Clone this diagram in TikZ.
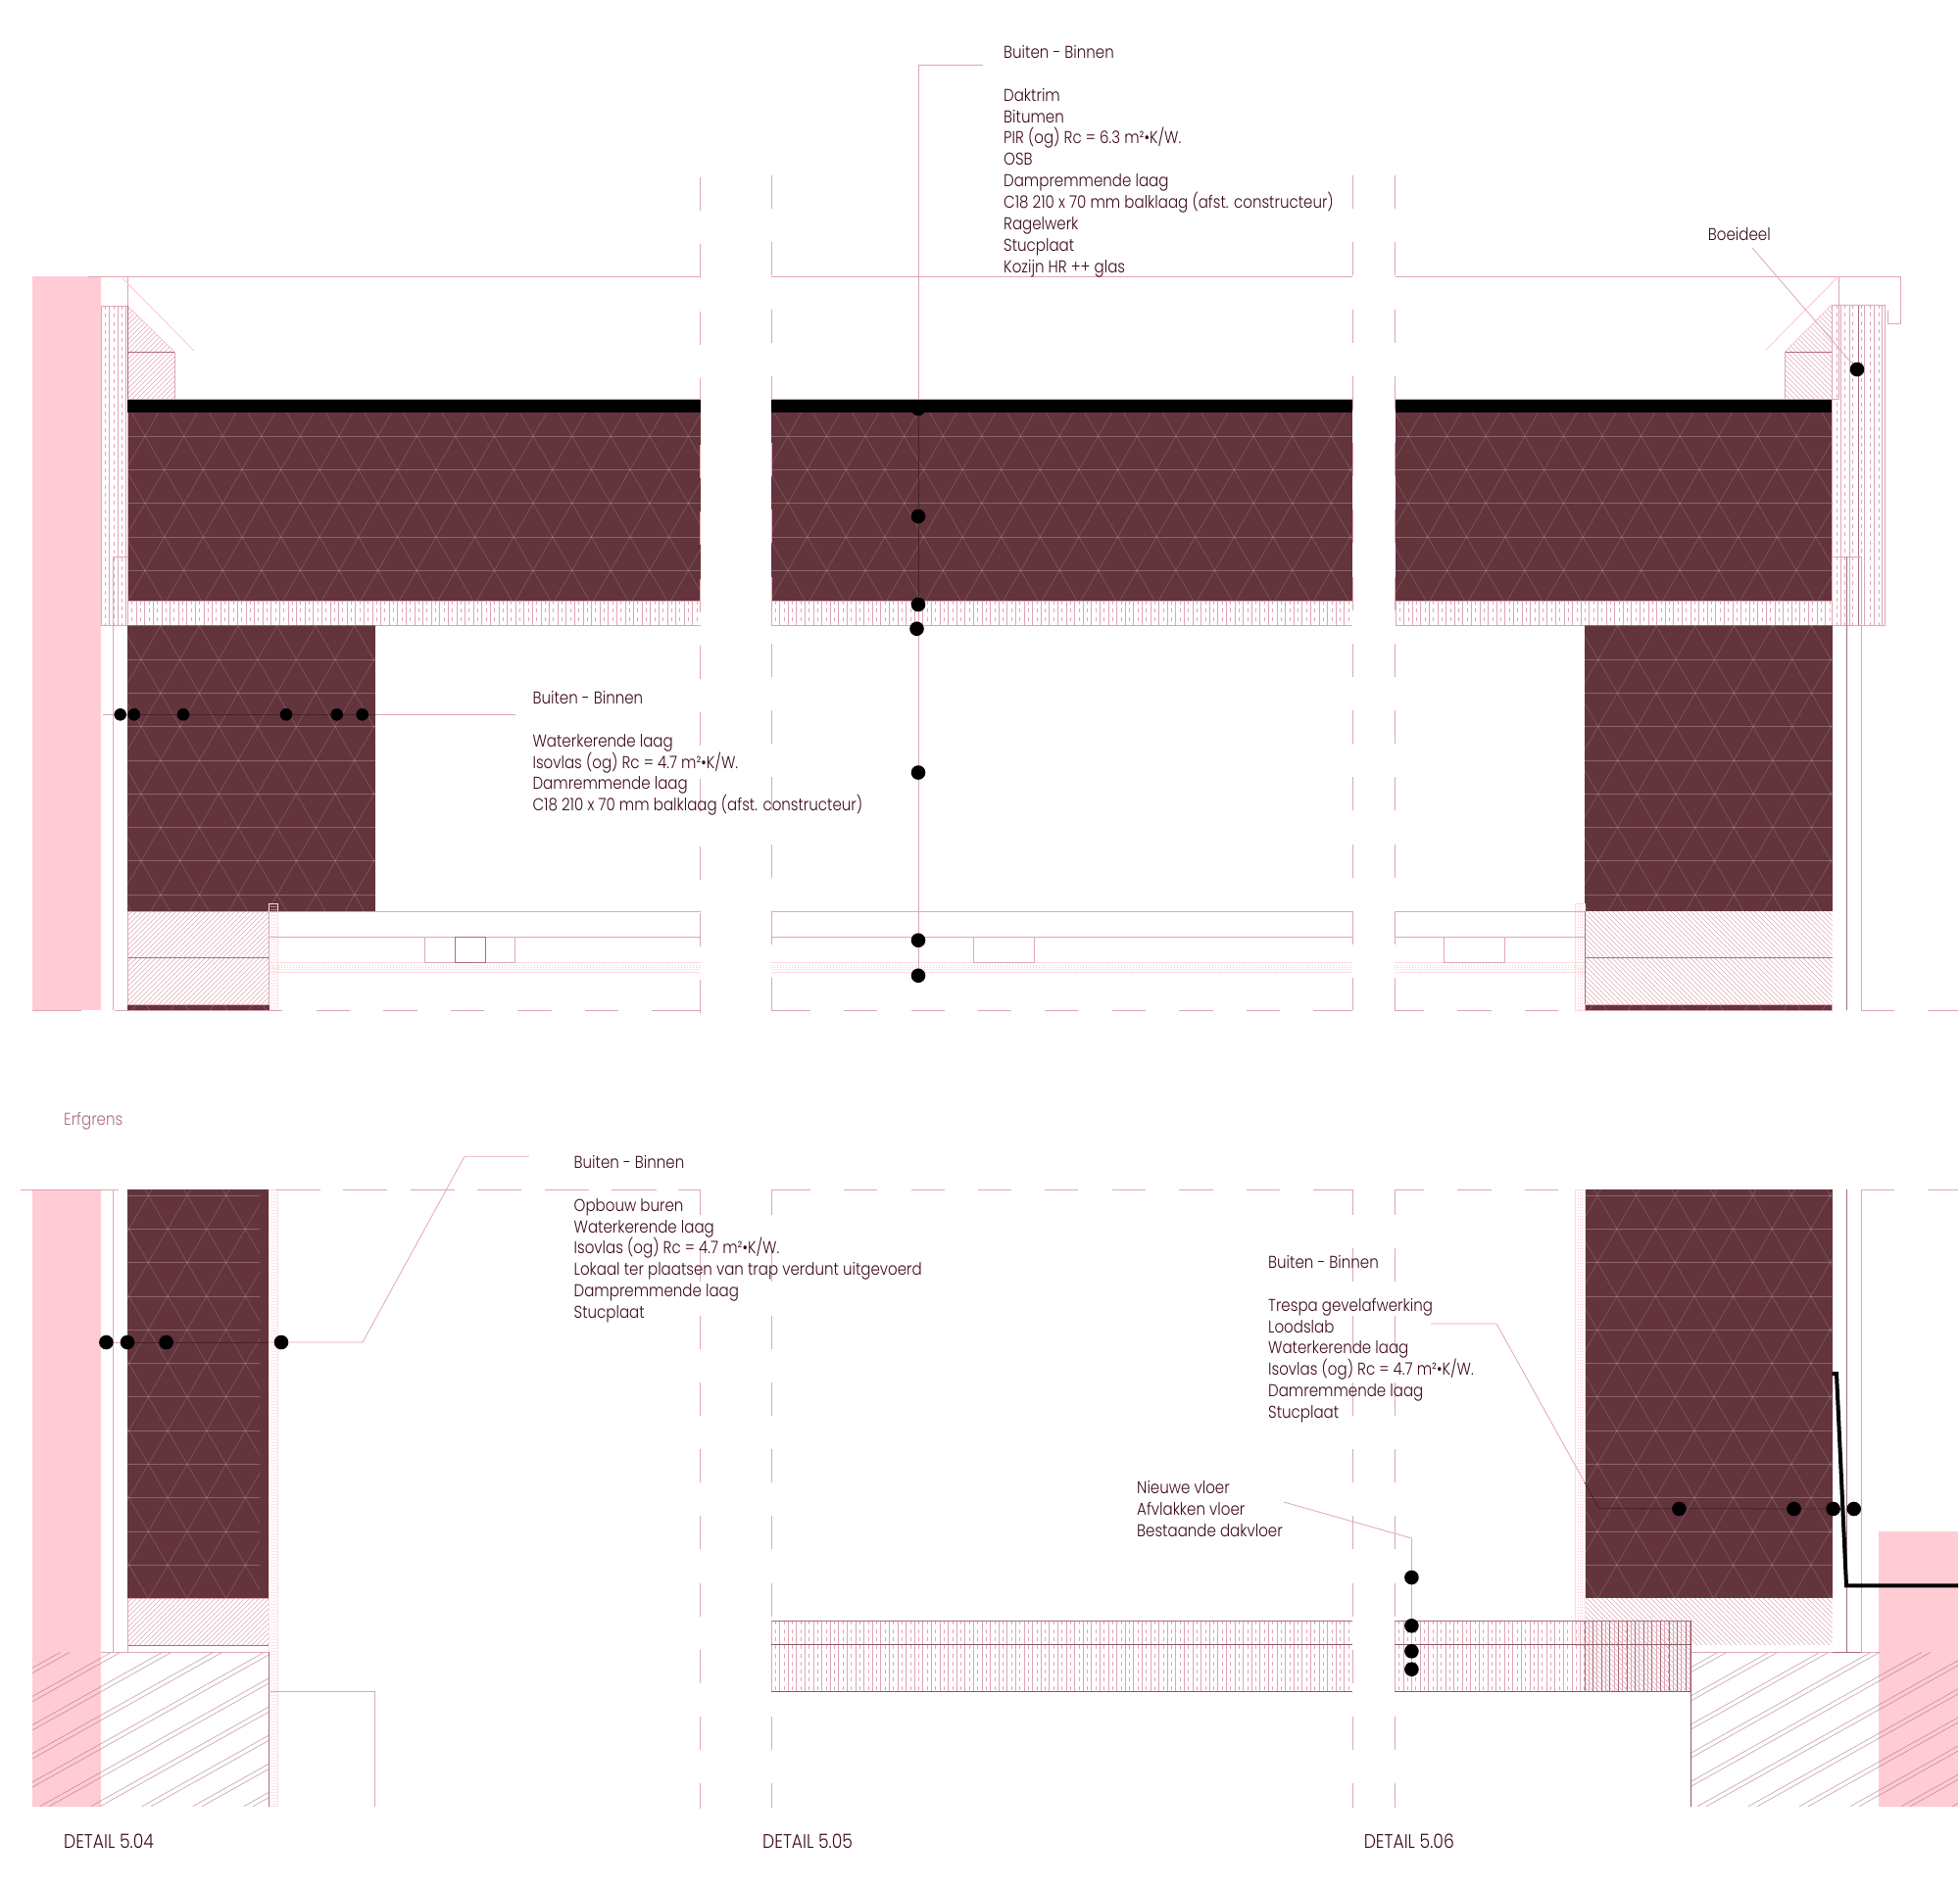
\documentclass[tikz,border=0pt]{standalone}
\usepackage{fontspec}
\setmainfont{Poppins}[UprightFont=* Light,FakeStretch=0.86]
\pgfdeclarelayer{top}
\pgfsetlayers{main,top}
\definecolor{wallc}{HTML}{63343C}
\definecolor{pinkf}{HTML}{FFCCD5}
\definecolor{linec}{HTML}{DFA6B4}
\definecolor{lined}{HTML}{A86C7C}
\definecolor{linee}{HTML}{8E5564}
\definecolor{paled}{HTML}{FFC8D2}
\definecolor{inkc}{HTML}{3D0A1A}
\definecolor{leaderin}{HTML}{47222B}
\tikzset{
  pl/.style={draw=linec,line width=0.9pt},
  pld/.style={draw=lined,line width=0.8pt},
  ple/.style={draw=linee,line width=0.8pt},
  pale/.style={draw=paled,line width=0.9pt},
  hatchl/.style={draw=linec,line width=0.55pt},
  latth/.style={draw=white,draw opacity=0.24,line width=0.8pt},
  lattd/.style={draw=white,draw opacity=0.17,line width=0.7pt},
  ins/.style={draw=linec,line width=0.8pt},
  insd/.style={draw=linec,line width=0.8pt,dash pattern=on 4pt off 4.3pt},
  insk/.style={draw=lined,line width=0.7pt},
  grd/.style={draw=lined,draw opacity=0.6,line width=0.7pt},
  dotb/.style={draw=paled,line width=0.7pt,dash pattern=on 1pt off 2pt},
  dotl/.style={draw=paled!70,line width=0.7pt},
  dashv/.style={draw=linec,line width=1pt,dash pattern=on 34pt off 34.25pt},
  blackdot/.style={circle,fill=black,draw=none,minimum size=14.6pt,inner sep=0pt},
  blackdotsm/.style={blackdot,minimum size=12.6pt},
  txt/.style={anchor=north west,inner sep=0pt,align=left,text=inkc,font=\fontsize{17.5}{21.9}\selectfont},
  capt/.style={txt,font=\fontsize{20}{24}\selectfont},
  leader/.style={draw=linec,line width=0.8pt},
  leaderd/.style={draw=leaderin,line width=0.8pt},
}
\newcommand{\hatchfw}[5]{%
  \begin{scope}
    \clip #5;
    \pgfmathsetmacro\hatchH{#4-#2}
    \pgfmathsetmacro\hatchS{#1-\hatchH}
    \pgfmathsetmacro\hatchN{\hatchS+5}
    \foreach \xx in {\hatchS,\hatchN,...,#3} {
      \pgfmathsetmacro\hatchE{\xx+\hatchH}
      \draw[hatchl] (\xx,#4) -- (\hatchE,#2);
    }
  \end{scope}}
\newcommand{\hatchbk}[5]{%
  \begin{scope}
    \clip #5;
    \pgfmathsetmacro\hatchH{#4-#2}
    \pgfmathsetmacro\hatchS{#1-\hatchH}
    \pgfmathsetmacro\hatchN{\hatchS+5}
    \foreach \xx in {\hatchS,\hatchN,...,#3} {
      \pgfmathsetmacro\hatchE{\xx+\hatchH}
      \draw[hatchl] (\xx,#2) -- (\hatchE,#4);
    }
  \end{scope}}
\newcommand{\lattice}[6]{%
  \begin{scope}
    \clip (#1,#2) rectangle (#3,#4);
    \foreach \k in {-1,...,13} {
      \pgfmathsetmacro\latY{#6+\k*34.3}
      \draw[latth] (#1,\latY) -- (#3,\latY);
    }
    \foreach \m in {-8,...,25} {
      \pgfmathsetmacro\latA{#5+\m*39.6+(#2-#6)*0.5773}
      \pgfmathsetmacro\latB{\latA+(#4-#2)*0.5773}
      \pgfmathsetmacro\latC{#5+\m*39.6-(#2-#6)*0.5773}
      \pgfmathsetmacro\latD{\latC-(#4-#2)*0.5773}
      \draw[lattd] (\latA,#2) -- (\latB,#4) (\latC,#2) -- (\latD,#4);
    }
  \end{scope}}
\newcommand{\insul}[4]{%
  \pgfmathsetmacro\insN{#1+8.6}
  \foreach \xx in {#1,\insN,...,#3} {
    \draw[ins] (\xx,#2) -- (\xx,#4);
    \pgfmathsetmacro\insM{\xx+4.3}
    \pgfmathparse{\insM<#3 ? 1 : 0}
    \ifnum\pgfmathresult=1 \draw[insd] (\insM,#2) -- (\insM,#4); \fi
  }}
\newcommand{\dotV}[4]{%
  \draw[dotl] (#1,#2) rectangle (#3,#4);
  \pgfmathsetmacro\dvA{#1+2.6}
  \pgfmathsetmacro\dvB{#1+4.6}
  \pgfmathsetmacro\dvC{#1+6.8}
  \draw[dotb] (\dvA,#2) -- (\dvA,#4) (\dvB,#2) -- (\dvB,#4) (\dvC,#2) -- (\dvC,#4);}
\newcommand{\dotH}[2]{%
  \draw[dotl] (#1,982) -- (#2,982) (#1,992) -- (#2,992);
  \draw[dotb] (#1,985) -- (#2,985) (#1,987) -- (#2,987) (#1,989.5) -- (#2,989.5);}
\begin{document}
\begin{tikzpicture}[x=1pt,y=-1pt]
\useasboundingbox (0,0) rectangle (2000,1928);
% dots and texts (top layer; named first so connectors can use them)
\begin{pgfonlayer}{top}
  \foreach \n/\px/\py in {T1/937/417,T2/937/527,T3/937/617,T4/935.5/641.7,T5/937/959.7,T6/937/995.7,
      B/1895/377,
      M1/108.4/1370,M2/130/1370,M3/169.6/1370,M4/287/1370,
      R1/1713.4/1540,R2/1830.5/1540,R3/1870.6/1540,R4/1891.7/1540,
      F1/1440.4/1610,F2/1440.4/1659.3,F3/1440.4/1685.3,F4/1440.4/1703.7}
    \node[blackdot] (d\n) at (\px,\py) {};
  \node[blackdot] (dT7) at (937,788.5) {};
  \foreach \n/\px in {L1/122.7,L2/136.7,L3/187,L4/292,L5/343.7,L6/369.7}
    \node[blackdotsm] (d\n) at (\px,729.3) {};
  \node[txt] (t1) at (1024,46) {Buiten - Binnen\\[21.9pt]Daktrim\\Bitumen\\PIR (og) Rc = 6.3 m²•K/W.\\OSB\\Dampremmende laag\\C18 210 x 70 mm balklaag (afst. constructeur)\\Ragelwerk\\Stucplaat\\Kozijn HR ++ glas};
  \node[txt] (t2) at (543.4,705) {Buiten - Binnen\\[21.9pt]Waterkerende laag\\Isovlas (og) Rc = 4.7 m²•K/W.\\Damremmende laag\\C18 210 x 70 mm balklaag (afst. constructeur)};
  \node[txt] (t3) at (1742.7,232) {Boeideel};
  \node[txt,text=lined] (t4) at (65,1135) {Erfgrens};
  \node[txt] (t5) at (585.5,1179) {Buiten - Binnen\\[21.9pt]Opbouw buren\\Waterkerende laag\\Isovlas (og) Rc = 4.7 m²•K/W.\\Lokaal ter plaatsen van trap verdunt uitgevoerd\\Dampremmende laag\\Stucplaat};
  \node[txt] (t6) at (1294,1281) {Buiten - Binnen\\[21.9pt]Trespa gevelafwerking\\Loodslab\\Waterkerende laag\\Isovlas (og) Rc = 4.7 m²•K/W.\\Damremmende laag\\Stucplaat};
  \node[txt] (t7) at (1160,1511) {Nieuwe vloer\\Afvlakken vloer\\Bestaande dakvloer};
  \node[capt] (t8) at (65,1872) {DETAIL 5.04};
  \node[capt] (t9) at (778,1872) {DETAIL 5.05};
  \node[capt] (t10) at (1391.6,1872) {DETAIL 5.06};
\end{pgfonlayer}
% pink neighbours
\fill[pinkf] (33,282) rectangle (103,1031);
\fill[pinkf] (33,1214) rectangle (103,1843.7);
\fill[pinkf] (1916.6,1562.7) rectangle (1998,1843.7);
% ground hatch
\begin{scope}
  \clip (33,1686.3) rectangle (274.3,1843.7);
  \foreach \k in {-2,...,8} {
    \pgfmathsetmacro\gA{175+52*\k}
    \pgfmathsetmacro\gB{165.7+52*\k}
    \pgfmathsetmacro\gC{\gA-281}
    \pgfmathsetmacro\gD{\gB-281}
    \draw[grd] (\gA,1686.3) -- (\gC,1843.7) (\gB,1686.3) -- (\gD,1843.7);
  }
\end{scope}
\begin{scope}
  \clip (1725.3,1686.3) rectangle (1998,1843.7);
  \foreach \k in {-2,...,9} {
    \pgfmathsetmacro\gA{1866+52*\k}
    \pgfmathsetmacro\gB{1857+52*\k}
    \pgfmathsetmacro\gC{\gA-281}
    \pgfmathsetmacro\gD{\gB-281}
    \draw[grd] (\gA,1686.3) -- (\gC,1843.7) (\gB,1686.3) -- (\gD,1843.7);
  }
\end{scope}
% roof fills
\foreach \a/\b in {130/715,787/1380,1424/1869.3} {
  \fill[wallc] (\a,421) rectangle (\b,613);
}
\lattice{130}{421}{715}{613}{148}{445}
\lattice{787}{421}{1380}{613}{764.3}{445}
\lattice{1424}{421}{1869.3}{613}{1397.4}{445}
% roof lower insulation strip
\insul{130.5}{613}{715}{638}
\insul{787}{613}{1380}{638}
\insul{1424}{613}{1869}{638}
\foreach \a/\b in {130/715,787/1380,1424/1869.3} {
  \draw[pl] (\a,613) -- (\b,613) (\a,638) -- (\b,638);
}
% top line
\draw[pl] (90,282) -- (715,282);
\draw[pl] (787,282) -- (1380,282);
\draw[pl] (1424,282) -- (1939,282) -- (1939,330.5) -- (1926.3,330.5) -- (1926.3,317);
\draw[pl] (130,282) -- (130,312);
\draw[pl] (1876.3,282) -- (1876.3,407) -- (1821,407);
\draw[pale] (123,282) -- (198,358);
\draw[pale] (1876,282) -- (1802,357);
% left vertical insulation
\foreach \xx in {103,111.3,120,128.7,130} \draw[ins] (\xx,312) -- (\xx,638);
\foreach \xx in {107.3,116,124.7} \draw[insd] (\xx,312) -- (\xx,638);
\draw[ins] (103,312) -- (130,312);
\draw[ins] (103,638) -- (130,638);
% right vertical insulation
\foreach \xx in {1869.3,1878.3,1887.3,1902.7,1912.3,1920.7,1923.7} \draw[ins] (\xx,311) -- (\xx,638);
\draw[pld] (1896.3,311) -- (1896.3,638);
\foreach \xx in {1874,1882.7,1890.7,1899.3,1908.3,1917.3} \draw[insd] (\xx,311) -- (\xx,638);
\draw[ins] (1869.3,311) -- (1923.7,311);
\draw[ins] (1869.3,638) -- (1923.7,638);
% roof edge hatches
\hatchfw{130}{312}{178}{407}{(130,312) -- (178,359) -- (178,407) -- (130,407) -- cycle}
\hatchbk{1821.3}{311}{1869}{407}{(1869,311) -- (1821.3,359) -- (1821.3,407) -- (1869,407) -- cycle}
\draw[pld] (130,359) -- (178,359);
\draw[pl] (178,359) -- (178,407);
\draw[pale] (130,312) -- (178,359);
\draw[pld] (130,312) -- (130,407);
\draw[pld] (1821.3,359) -- (1869,359);
\draw[pl] (1821.3,359) -- (1821.3,407);
\draw[pale] (1869,311) -- (1821.3,359);
% wall structure lines (upper)
\draw[pl] (115.5,1031) -- (115.5,568) -- (130,568);
\draw[pl] (1869.3,568) -- (1899.3,568) -- (1899.3,1031);
\draw[pld] (1884.3,568) -- (1884.3,1031);
% upper walls
\fill[wallc] (130,638) rectangle (382.5,930);
\lattice{130}{638}{382.5}{930}{144}{673}
\fill[wallc] (1617,638) rectangle (1869.5,930);
\lattice{1617}{638}{1869.5}{930}{1630.7}{673}
% dotted strips upper
\dotV{274.3}{922}{283.5}{1031}
\dotV{1607.4}{922}{1617}{1031}
% window frame rows
\foreach \a/\b in {274.5/715,787/1380,1423.3/1617} {
  \draw[pl] (\a,930) -- (\b,930) (\a,956) -- (\b,956);
  \dotH{\a}{\b}
}
\foreach \ax/\bx in {433/464,495/525.7,993.3/1055.3,1473.5/1535.5} {
  \draw[pl] (\ax,956) rectangle (\bx,982);
}
\draw[pld] (464,956) rectangle (495,982);
% upper wall bottoms
\hatchfw{130}{930}{274.5}{977}{(130,930) rectangle (274.5,977)}
\hatchfw{130}{977}{274.5}{1025}{(130,977) rectangle (274.5,1025)}
\hatchbk{1617}{930}{1869.5}{977}{(1617,930) rectangle (1869.5,977)}
\hatchbk{1617}{977}{1869.5}{1025}{(1617,977) rectangle (1869.5,1025)}
\draw[pld] (130,977) -- (274.5,977);
\draw[pld] (274.5,930) -- (274.5,1025);
\draw[pld] (1617,977) -- (1869.5,977);
\draw[pld] (1617,930) -- (1617,1025);
\fill[wallc] (130,1025) rectangle (274.5,1031);
\lattice{130}{1025}{274.5}{1031}{144}{673}
\fill[wallc] (1617,1025) rectangle (1869.5,1031);
\lattice{1617}{1025}{1869.5}{1031}{1630.7}{673}
\draw[pl] (130,930) rectangle (274.5,1025);
\draw[pl] (1617,1025) rectangle (1869.5,1031);
% dashed horizontal y=1031
\foreach \a/\b in {33/83,117/288,322.5/357,391/426,460/494,528/563,597/631,665/715,
    787/827,861/895,930/964,998/1032,1066/1100,1135/1169,1203/1238,1272/1306,1340/1380,
    1423/1453,1487/1522,1556/1590,1899/1933,1967/1998}
  \draw[pl] (\a,1031) -- (\b,1031);
% lower walls
\fill[wallc] (130,1214) rectangle (274.3,1631);
\lattice{130}{1214}{265}{1631}{151.4}{1220}
\fill[wallc] (1617,1214) rectangle (1869.5,1631);
\lattice{1617}{1214}{1869.5}{1631}{1630}{1220}
\hatchfw{130}{1631}{274.3}{1679}{(130,1631) rectangle (274.3,1679)}
\hatchbk{1617}{1631}{1869.5}{1679}{(1617,1631) rectangle (1869.5,1679)}
\draw[pld] (130,1679) -- (274.3,1679);
\draw[pl] (130,1631) -- (274.3,1631);
\draw[pl] (274.3,1631) -- (274.3,1679);
% dotted strips lower
\dotV{274.3}{1214}{283.5}{1843.7}
\dotV{1607.4}{1214}{1617}{1679}
% lower structural lines
\draw[pl] (115.3,1214) -- (115.3,1686.3);
\draw[pl] (130,1631) -- (130,1686.3);
\draw[pl] (103,1686.3) -- (274.3,1686.3);
\draw[pl] (1725.3,1686.3) -- (1916.6,1686.3);
\draw[pl] (1899.4,1214) -- (1899.4,1686.3);
\draw[pld] (1884.5,1214) -- (1884.5,1686.3);
\draw[pld] (1869.5,1686.3) -- (1899.4,1686.3);
\draw[pld] (274.3,1686.3) -- (274.3,1843.7);
\draw[pl] (274.3,1726.3) -- (382.3,1726.3) -- (382.3,1843.7);
% y=1214 dashed
\foreach \a/\b in {20.7/120.7,282/327,350/395,418.6/464,487/532,555.7/601,624/670,692/715,
    787/827,861/895,930/964,998/1032,1066/1100,1135/1169,1203/1238,1272/1306,1340/1380,
    1423/1453,1487/1522,1556/1590,1899/1933,1967/1998}
  \draw[pl] (\a,1214) -- (\b,1214);
% floor
\hatchbk{1617}{1679}{1725.3}{1726.7}{(1617,1679) rectangle (1725.3,1726.7)}
\foreach \a/\b in {787/1380,1423.3/1725.3} {
  \insul{\a}{1654.3}{\b}{1726.7}
  \draw[pld] (\a,1654.3) -- (\b,1654.3);
  \draw[ple] (\a,1678.3) -- (\b,1678.3) (\a,1726.7) -- (\b,1726.7);
}
\foreach \xx in {1617,1625.6,...,1725} \draw[insk] (\xx,1654.3) -- (\xx,1726.7);
\draw[ple] (1725.3,1654.3) -- (1725.3,1843.7);
% dashed verticals
\foreach \xx in {787,1380,1423.3} {
  \draw[dashv] (\xx,179) -- (\xx,1031);
  \draw[dashv,dash phase=8pt] (\xx,1214) -- (\xx,1845);
}
\draw[dashv] (714.5,181) -- (714.5,1035);
\draw[dashv,dash phase=8pt] (714.5,1214) -- (714.5,1846);
% connectors
\coordinate (cT) at (1002.5,66.3);
\coordinate (cTa) at (937,66.3);
\coordinate (cTb) at (937,407);
\coordinate (cTc) at (937,421);
\coordinate (cTd) at (937,613);
\draw[leader] (cT) -- (cTa) -- (cTb);
\draw[leaderd] (cTc) -- (cTd);
\draw[leader] (cTd) -- (dT6.center);
\coordinate (cLa) at (105,729.3);
\coordinate (cLb) at (130,729.3);
\coordinate (cLc) at (382.5,729.3);
\coordinate (cLd) at (525.5,729.3);
\draw[leader] (cLa) -- (cLb);
\draw[leaderd] (cLb) -- (cLc);
\draw[leader] (cLc) -- (cLd);
\coordinate (cBa) at (1788,253);
\draw[leader] (cBa) -- (dB.center);
\coordinate (cMa) at (540,1180.3);
\coordinate (cMb) at (474,1180.3);
\coordinate (cMc) at (274.3,1370);
\coordinate (cMd) at (370,1370);
\draw[leader] (cMa) -- (cMb) -- (cMd) -- (dM4.center) -- (cMc);
\draw[leaderd] (cMc) -- (dM2.center);
\draw[leader] (dM2.center) -- (dM1.center);
\coordinate (cRa) at (1460,1351);
\coordinate (cRb) at (1527,1351);
\coordinate (cRc) at (1617,1513);
\coordinate (cRd) at (1631.5,1539.5);
\coordinate (cRe) at (1869.5,1540);
\draw[leader] (cRa) -- (cRb) -- (cRc);
\draw[leaderd] (cRc) -- (cRd) -- (cRe);
\draw[leader] (cRe) -- (dR4.center);
\coordinate (cFa) at (1310,1533);
\coordinate (cFb) at (1440.4,1570);
\draw[leader] (cFa) -- (cFb) -- (dF4.center);
% thick line
\coordinate (kA) at (1869.5,1402);
\coordinate (kB) at (1874,1402);
\coordinate (kC) at (1884,1618.3);
\coordinate (kD) at (1998,1618.3);
\draw[black,line width=4pt,line join=miter] (kA) -- (kB) -- (kC) -- (kD);
% black strip
\foreach \a/\b in {130/715,787/1380,1424/1869.3} {
  \fill[black] (\a,407) rectangle (\b,421);
  \draw[pl] (\a,407) -- (\b,407);
}
\end{tikzpicture}
\end{document}
